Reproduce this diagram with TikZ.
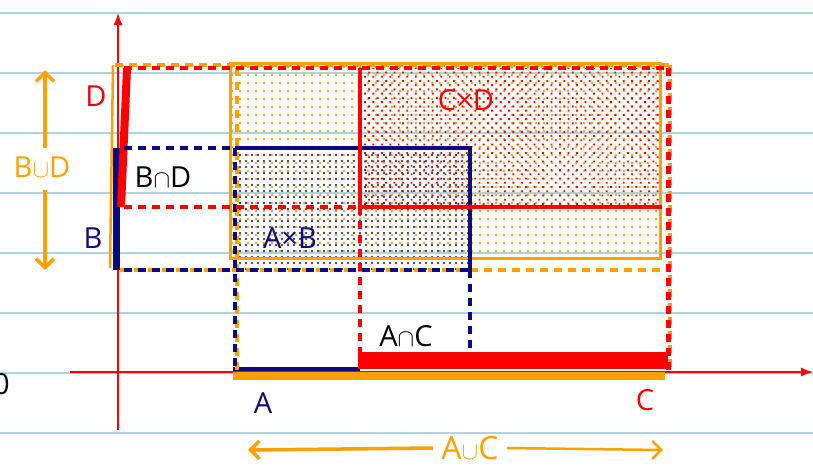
\documentclass[tikz,border=0pt]{standalone}
\usepackage{fontspec}
\setmainfont{Open Sans}
\usetikzlibrary{arrows.meta}
\usetikzlibrary{patterns.meta}
\definecolor{setnavy}{RGB}{10,10,130}
\definecolor{setorange}{RGB}{255,160,0}
\definecolor{setred}{RGB}{255,0,0}
\definecolor{ruled}{RGB}{170,214,228}
\def\axisx{118}
\def\axisy{372}
\def\aleft{235}
\def\aright{470}
\def\cleft{360}
\def\cright{668}
\def\btop{148}
\def\bbot{270}
\def\dtop{68}
\def\dbot{207}
\tikzset{
  rule/.style={ruled, line width=2.4pt},
  setdash/.style={line width=4.2pt, dash pattern=on 8pt off 6pt},
  lbl/.style={font=\fontsize{29}{31}\selectfont, inner sep=0pt},
}

\begin{document}
\begin{tikzpicture}[x=1pt, y=-1pt, thick]
  \useasboundingbox (0,0) rectangle (813,467);
  % lined paper
  \foreach \r in {13,73,...,433}
    \draw[rule] (0,\r) -- (813,\r);
  % fills
  \fill[pattern={Dots[distance=8pt, radius=1.3pt]}, pattern color=setorange]
    (230,63) rectangle (660,258);
  \fill[pattern={Dots[distance=6pt, radius=1.2pt]}, pattern color=setnavy]
    (\aleft,\btop) rectangle (\aright,\bbot);
  \fill[pattern={Dots[distance=6pt, angle=45, radius=1.3pt]}, pattern color=setred]
    (\cleft,\dtop) rectangle (660,\dbot);
  \draw[setorange, line width=3pt] (230,63) rectangle (660,258);
  % axes
  \coordinate (xs) at (70,\axisy);
  \coordinate (xe) at (813,\axisy);
  \coordinate (ys) at (\axisx,430);
  \coordinate (ye) at (\axisx,13);
  \draw[setred, line width=1.3pt, -{Latex[length=12pt, width=9pt]}] (xs) -- (xe);
  \draw[setred, line width=1.3pt, -{Latex[length=12pt, width=9pt]}] (ys) -- (ye);
  \node[lbl, anchor=east] (zero) at (10,384) {0};
  % set bars on the y axis
  \draw[setorange, line width=2.5pt] (113,65) -- (110,268);
  \draw[setnavy, line width=7pt] (116,\btop) -- (116,\bbot);
  \draw[setred, line width=8pt] (127,\dtop) -- (121,\dbot);
  % set bars on the x axis
  \draw[setorange, line width=8pt] (233,376) -- (665,376);
  \draw[setnavy, line width=4.5pt] (233,369) -- (\cleft,369);
  \fill[setred] (358,352) rectangle (\cright,369);
  % orange outline
  \draw[setorange, setdash] (115,65) -- (670,65);
  \draw[setorange, setdash] (120,\bbot) -- (670,\bbot);
  \draw[setorange, setdash] (670,65) -- (670,\axisy);
  \draw[setorange, setdash] (237,\dtop) -- (237,\axisy);
  % blue outline
  \draw[setnavy, setdash] (124,\btop) -- (\aleft,\btop);
  \draw[setnavy, line width=3.5pt] (\aleft,\btop) -- (\aright,\btop) -- (\aright,\bbot);
  \draw[setnavy, setdash] (124,\bbot) -- (\aright,\bbot);
  \draw[setnavy, setdash] (\aleft,\btop) -- (\aleft,\axisy);
  \draw[setnavy, setdash] (\aright,\bbot) -- (\aright,352);
  % red outline
  \draw[setred, setdash] (124,\dtop) -- (\cright,\dtop);
  \draw[setred, setdash] (124,\dbot) -- (\cleft,\dbot);
  \draw[setred, line width=3.5pt] (\cleft,\dtop) -- (\cleft,\dbot) -- (662,\dbot);
  \draw[setred, setdash, line width=5pt] (\cright,\dtop) -- (\cright,\axisy);
  \draw[setred, setdash] (\cleft,\dbot) -- (\cleft,352);
  % labels
  \node[lbl, setred] (dlbl) at (96,96) {D};
  \node[lbl, setnavy] (blbl) at (93,238) {B};
  \node[lbl, setorange] (bud) at (42,167) {B$\cup$D};
  \node[lbl] (bnd) at (163,177) {B$\cap$D};
  \node[lbl, setnavy] (axb) at (290,238) {A×B};
  \node[lbl, setred] (cxd) at (466,100) {C×D};
  \node[lbl] (anc) at (406,336) {A$\cap$C};
  \node[lbl, setnavy] (albl) at (263,403) {A};
  \node[lbl, setred] (clbl) at (645,400) {C};
  \node[lbl, setorange, font=\fontsize{32}{34}\selectfont] (auc) at (470,448) {A$\cup$C};
  % union arrows
  \coordinate (budtop) at (45,70);
  \coordinate (budbot) at (45,270);
  \coordinate (aucl) at (248,450);
  \coordinate (aucr) at (663,450);
  \draw[setorange, line width=3.5pt, -{Straight Barb[length=9pt]}] (bud.north -| budtop) ++(0,-8) -- (budtop);
  \draw[setorange, line width=3.5pt, -{Straight Barb[length=9pt]}] (bud.south -| budbot) ++(0,12) -- (budbot);
  \draw[setorange, line width=3.5pt, -{Straight Barb[length=9pt]}] (auc.west) ++(-8,0) -- (aucl);
  \draw[setorange, line width=2.5pt, -{Straight Barb[length=9pt]}] (auc.east) ++(8,0) -- (aucr);
\end{tikzpicture}
\end{document}
